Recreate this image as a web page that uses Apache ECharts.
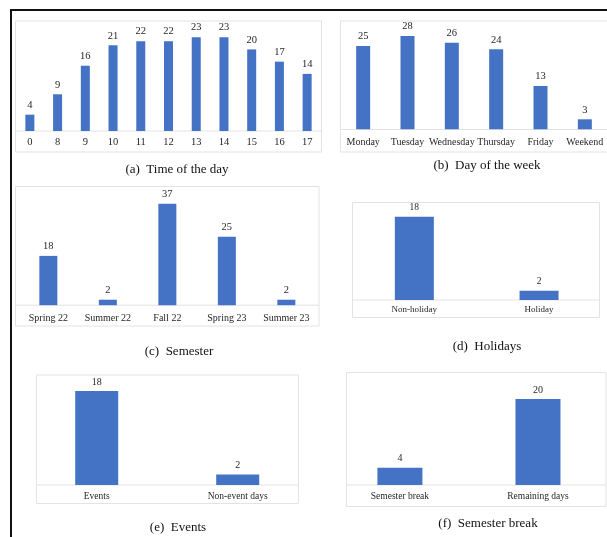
<!DOCTYPE html>
<html>
<head>
<meta charset="utf-8">
<script src="https://cdn.jsdelivr.net/npm/echarts@6/dist/echarts.min.js"></script>
<style>
  html, body { margin: 0; padding: 0; background: #fff; }
  #chart { width: 607px; height: 537px; }
</style>
</head>
<body>
<div id="chart"></div>
<script>
// Category labels and counts for the six panels
const hourLabels = ['0', '8', '9', '10', '11', '12', '13', '14', '15', '16', '17'];
const hourCounts = [4, 9, 16, 21, 22, 22, 23, 23, 20, 17, 14];

const dayLabels = ['Monday', 'Tuesday', 'Wednesday', 'Thursday', 'Friday', 'Weekend'];
const dayCounts = [25, 28, 26, 24, 13, 3];

const semesterLabels = ['Spring 22', 'Summer 22', 'Fall 22', 'Spring 23', 'Summer 23'];
const semesterCounts = [18, 2, 37, 25, 2];

const holidayLabels = ['Non-holiday', 'Holiday'];
const holidayCounts = [18, 2];

const eventLabels = ['Events', 'Non-event days'];
const eventCounts = [18, 2];

const breakLabels = ['Semester break', 'Remaining days'];
const breakCounts = [4, 20];

const captions = ['(a)  Time of the day', '(b)  Day of the week', '(c)  Semester',
                  '(d)  Holidays', '(e)  Events', '(f)  Semester break'];

const BLUE = '#4472C4';
const SERIF = '"Liberation Serif", "Times New Roman", serif';
const FRAME = '#e3e3e3';
const TEXT = '#262626';

// Layout of each panel: plot grid, y max, bar width, fonts, frame box, caption position
const panels = [
  { labels: hourLabels, values: hourCounts, grid: { left: 16, top: 29, width: 305, height: 102 }, max: 25, barWidth: 9,
    axisFont: 10.5, valueFont: 10.5, margin: 6, box: [15.5, 21, 306, 131], base: 131, cap: [177, 170] },
  { labels: dayLabels, values: dayCounts, grid: { left: 341, top: 29.3, width: 270, height: 100 }, max: 30, barWidth: 14,
    axisFont: 10, valueFont: 10.5, margin: 8, box: [340.5, 21, 280, 131], base: 129.5, cap: [487, 166] },
  { labels: semesterLabels, values: semesterCounts, grid: { left: 18.6, top: 195.6, width: 297.5, height: 109.6 }, max: 40, barWidth: 18,
    axisFont: 10, valueFont: 10.5, margin: 8, box: [15.5, 186.5, 303.5, 139.5], base: 305.2, cap: [179, 352] },
  { labels: holidayLabels, values: holidayCounts, grid: { left: 352, top: 207.6, width: 249.4, height: 92.4 }, max: 20, barWidth: 39,
    axisFont: 9, valueFont: 9.5, margin: 5, box: [352.5, 202.5, 247, 115], base: 300, cap: [487, 347] },
  { labels: eventLabels, values: eventCounts, grid: { left: 26.2, top: 380.6, width: 282, height: 104.4 }, max: 20, barWidth: 43,
    axisFont: 9.5, valueFont: 10, margin: 6, box: [36.5, 375, 262, 128.5], base: 485, cap: [178, 528] },
  { labels: breakLabels, values: breakCounts, grid: { left: 330.9, top: 390.4, width: 289.2, height: 94.6 }, max: 22, barWidth: 45,
    axisFont: 9.5, valueFont: 10, margin: 6, box: [346.5, 372.5, 259.5, 134], base: 485, cap: [488, 524] }
];

const grids = [], xAxes = [], yAxes = [], series = [], graphics = [];

panels.forEach((p, i) => {
  // light frame around each sub-chart and its category baseline
  graphics.push({
    type: 'rect', z: 0, silent: true,
    shape: { x: p.box[0], y: p.box[1], width: p.box[2], height: p.box[3] },
    style: { fill: '#fff', stroke: FRAME, lineWidth: 1 }
  });
  graphics.push({
    type: 'line', z: 1, silent: true,
    shape: { x1: p.box[0], y1: p.base, x2: p.box[0] + p.box[2], y2: p.base },
    style: { stroke: FRAME, lineWidth: 1 }
  });
  graphics.push({
    type: 'text', z: 2, silent: true, x: p.cap[0], y: p.cap[1],
    style: { text: captions[i], font: '13px ' + SERIF, fill: '#111', align: 'center', verticalAlign: 'middle' }
  });

  grids.push(Object.assign({ containLabel: false }, p.grid));
  xAxes.push({
    type: 'category', gridIndex: i, data: p.labels,
    axisLine: { show: false }, axisTick: { show: false },
    axisLabel: { fontFamily: SERIF, fontSize: p.axisFont, color: TEXT, margin: p.margin, interval: 0 }
  });
  yAxes.push({
    type: 'value', gridIndex: i, min: 0, max: p.max, show: false, splitLine: { show: false }
  });
  series.push({
    type: 'bar', xAxisIndex: i, yAxisIndex: i, data: p.values, barWidth: p.barWidth,
    itemStyle: { color: BLUE }, z: 3,
    label: { show: true, position: 'top', distance: 4, fontFamily: SERIF, fontSize: p.valueFont, color: TEXT }
  });
});

// outer black frame (top and left edges)
graphics.push({
  type: 'polyline', z: 5, silent: true,
  shape: { points: [[11, 537], [11, 10], [607, 10]] },
  style: { stroke: '#111', lineWidth: 2, fill: null }
});

const chart = echarts.init(document.getElementById('chart'), null, { renderer: 'canvas' });
chart.setOption({
  backgroundColor: '#fff',
  animation: false,
  graphic: graphics,
  grid: grids,
  xAxis: xAxes,
  yAxis: yAxes,
  series: series
});
</script>
</body>
</html>
